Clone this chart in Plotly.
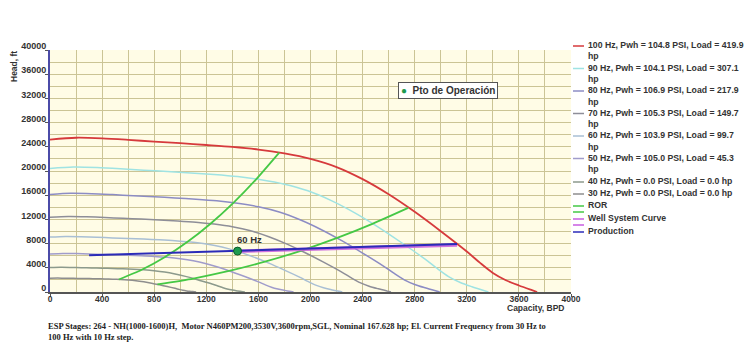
import plotly.graph_objects as go

# ---- pump curves (capacity BPD, head ft) per drive frequency ----
q_100 = [0, 200, 400, 600, 800, 1000, 1200, 1400, 1600, 1800, 2000, 2200, 2400, 2600, 2800, 3000,
         3200, 3300, 3400, 3500, 3600, 3700, 3740]
h_100 = [25200, 25500, 25400, 25150, 24850, 24600, 24300, 23980, 23550, 22900, 22000, 20650, 18650, 16150, 13250, 10050,
         6700, 4850, 3150, 1950, 1080, 300, 0]

q_90 = [0, 180, 360, 540, 720, 900, 1080, 1260, 1440, 1620, 1800, 1980, 2160, 2340, 2520, 2700,
        2880, 2970, 3060, 3150, 3240, 3330, 3366]
h_90 = [20412, 20655, 20574, 20372, 20129, 19926, 19683, 19424, 19076, 18549, 17820, 16727, 15107, 13082, 10733, 8141,
        5427, 3929, 2552, 1580, 875, 243, 0]

q_80 = [0, 160, 320, 480, 640, 800, 960, 1120, 1280, 1440, 1600, 1760, 1920, 2080, 2240, 2400,
        2560, 2640, 2720, 2800, 2880, 2960, 2992]
h_80 = [16128, 16320, 16256, 16096, 15904, 15744, 15552, 15347, 15072, 14656, 14080, 13216, 11936, 10336, 8480, 6432,
        4288, 3104, 2016, 1248, 691, 192, 0]

q_70 = [0, 140, 280, 420, 560, 700, 840, 980, 1120, 1260, 1400, 1540, 1680, 1820, 1960, 2100,
        2240, 2310, 2380, 2450, 2520, 2590, 2618]
h_70 = [12348, 12495, 12446, 12324, 12177, 12054, 11907, 11750, 11540, 11221, 10780, 10119, 9139, 7914, 6493, 4925,
        3283, 2377, 1544, 956, 529, 147, 0]

q_60 = [0, 120, 240, 360, 480, 600, 720, 840, 960, 1080, 1200, 1320, 1440, 1560, 1680, 1800,
        1920, 1980, 2040, 2100, 2160, 2220, 2244]
h_60 = [9072, 9180, 9144, 9054, 8946, 8856, 8748, 8633, 8478, 8244, 7920, 7434, 6714, 5814, 4770, 3618,
        2412, 1746, 1134, 702, 389, 108, 0]

q_50 = [0, 100, 200, 300, 400, 500, 600, 700, 800, 900, 1000, 1100, 1200, 1300, 1400, 1500,
        1600, 1650, 1700, 1750, 1800, 1850, 1870]
h_50 = [6300, 6375, 6350, 6288, 6212, 6150, 6075, 5995, 5888, 5725, 5500, 5162, 4662, 4038, 3312, 2512,
        1675, 1212, 788, 488, 270, 75, 0]

q_40 = [0, 80, 160, 240, 320, 400, 480, 560, 640, 720, 800, 880, 960, 1040, 1120, 1200,
        1280, 1320, 1360, 1400, 1440, 1480, 1496]
h_40 = [4032, 4080, 4064, 4024, 3976, 3936, 3888, 3837, 3768, 3664, 3520, 3304, 2984, 2584, 2120, 1608,
        1072, 776, 504, 312, 173, 48, 0]

q_30 = [0, 60, 120, 180, 240, 300, 360, 420, 480, 540, 600, 660, 720, 780, 840, 900,
        960, 990, 1020, 1050, 1080, 1110, 1122]
h_30 = [2268, 2295, 2286, 2264, 2236, 2214, 2187, 2158, 2120, 2061, 1980, 1858, 1678, 1454, 1192, 904,
        603, 436, 284, 176, 97, 27, 0]

# recommended operating range limits
q_ror_min = [528, 704, 880, 1056, 1232, 1408, 1584, 1760]
h_ror_min = [2073, 3685, 5758, 8291, 11285, 14739, 18654, 23030]
q_ror_max = [825, 1100, 1375, 1650, 1925, 2200, 2475, 2750]
h_ror_max = [1251, 2224, 3475, 5004, 6811, 8896, 11259, 13900]

# well system curve and production line
q_well = [1440, 2000, 2600, 3125]
h_well = [6740, 7060, 7400, 7760]
q_prod = [300, 800, 1440, 2000, 2687, 3125]
h_prod = [6080, 6390, 6760, 7150, 7620, 7930]

# operating point
op_q = [1440]
op_h = [6760]
op_label = "60 Hz"

legend_names = [
    "100 Hz, Pwh = 104.8 PSI, Load = 419.9 hp",
    "90 Hz, Pwh = 104.1 PSI, Load = 307.1 hp",
    "80 Hz, Pwh = 106.9 PSI, Load = 217.9 hp",
    "70 Hz, Pwh = 105.3 PSI, Load = 149.7 hp",
    "60 Hz, Pwh = 103.9 PSI, Load = 99.7 hp",
    "50 Hz, Pwh = 105.0 PSI, Load = 45.3 hp",
    "40 Hz, Pwh = 0.0 PSI, Load = 0.0 hp",
    "30 Hz, Pwh = 0.0 PSI, Load = 0.0 hp",
    "ROR",
    "Well System Curve",
    "Production",
]

x_ticks = [0, 400, 800, 1200, 1600, 2000, 2400, 2800, 3200, 3600, 4000]
y_ticks = [0, 4000, 8000, 12000, 16000, 20000, 24000, 28000, 32000, 36000, 40000]

note = ("ESP Stages: 264 - NH(1000-1600)H,  Motor N460PM200,3530V,3600rpm,SGL, Nominal 167.628 hp; "
        "El. Current Frequency from 30 Hz to<br>100 Hz with 10 Hz step.")

# ---- styling ----
FONT = "Liberation Sans, Arial, sans-serif"
TXT = "#333333"
hz_colors = ["#D63A3C", "#9FE3E3", "#8C8CC4", "#8E8E98", "#A9BFD4", "#A09CCB", "#8C9A8C", "#8E8E8E"]
ror_color = "#45C845"
well_color = "#C85CE0"
prod_color = "#2B2BB8"
grid_color = "#CBC495"

fig = go.Figure()

hz_series = [(q_100, h_100), (q_90, h_90), (q_80, h_80), (q_70, h_70),
             (q_60, h_60), (q_50, h_50), (q_40, h_40), (q_30, h_30)]
for i, (q, h) in enumerate(hz_series):
    fig.add_trace(go.Scatter(x=q, y=h, mode="lines", name=legend_names[i],
                             line=dict(color=hz_colors[i], width=1.8 if i == 0 else 1.5,
                                       shape="spline", smoothing=0.8),
                             hoverinfo="skip"))

for q, h in [(q_ror_min, h_ror_min), (q_ror_max, h_ror_max)]:
    fig.add_trace(go.Scatter(x=q, y=h, mode="lines", name="ROR",
                             line=dict(color=ror_color, width=1.8, shape="spline", smoothing=0.6)))

fig.add_trace(go.Scatter(x=q_well, y=h_well, mode="lines", name="Well System Curve",
                         line=dict(color=well_color, width=3.5), opacity=0.85))
fig.add_trace(go.Scatter(x=q_prod, y=h_prod, mode="lines", name="Production",
                         line=dict(color=prod_color, width=2)))

fig.add_trace(go.Scatter(x=op_q, y=op_h, mode="markers", name="Pto de Operación",
                         marker=dict(size=8, color="#1E9A4E", line=dict(color="#0D5A2A", width=1))))
fig.add_annotation(x=op_q[0], y=op_h[0], text=op_label, showarrow=False,
                   xanchor="left", yanchor="bottom", xshift=-3, yshift=4,
                   font=dict(family=FONT, size=9.5, color=TXT, weight="bold"))


def px_x(px):
    return (px - 50) / 521


def px_y(py):
    return (292 - py) / 242


# ---- legend drawn at the right of the plot ----
legend_font = dict(family=FONT, size=8.7, color=TXT, weight="bold")
legend_colors = hz_colors + [ror_color, well_color, prod_color]
row_y = [45, 67.5, 90, 112.5, 135, 157.5, 181, 193, 205, 218, 231]
for name, color, py in zip(legend_names, legend_colors, row_y):
    lines = name.rsplit(" ", 1) if len(name) > 36 else [name]
    for k, line in enumerate(lines):
        fig.add_annotation(xref="paper", yref="paper", x=px_x(586), y=px_y(py + 11.5 * k),
                           text=line, showarrow=False, xanchor="left", yanchor="middle",
                           font=legend_font)
    fig.add_shape(type="line", xref="paper", yref="paper",
                  x0=px_x(573), x1=px_x(584), y0=px_y(py + 1), y1=px_y(py + 1),
                  line=dict(color=color, width=1.5))
# second ROR and well-curve samples
for color, py in [(ror_color, 212), (well_color, 225)]:
    fig.add_shape(type="line", xref="paper", yref="paper",
                  x0=px_x(573), x1=px_x(584), y0=px_y(py), y1=px_y(py),
                  line=dict(color=color, width=1.5))

# operating point key box
fig.add_annotation(xref="paper", yref="paper", x=px_x(448), y=px_y(90.5),
                   text="<span style='color:#1E9A4E'>●</span>  Pto de Operación",
                   showarrow=False, xanchor="center", yanchor="middle",
                   bgcolor="white", bordercolor="#555555", borderwidth=1, borderpad=2,
                   font=dict(family=FONT, size=10, color=TXT, weight="bold"))

# axis titles
fig.add_annotation(xref="paper", yref="paper", x=px_x(14), y=px_y(67),
                   text="Head, ft", textangle=-90, showarrow=False,
                   xanchor="center", yanchor="middle",
                   font=dict(family=FONT, size=8.5, color=TXT, weight="bold"))
fig.add_annotation(xref="paper", yref="paper", x=px_x(566), y=px_y(308),
                   text="Capacity, BPD", showarrow=False,
                   xanchor="right", yanchor="middle",
                   font=dict(family=FONT, size=8.5, color=TXT, weight="bold"))

# footnote
fig.add_annotation(xref="paper", yref="paper", x=px_x(46), y=px_y(319),
                   text=note, showarrow=False, xanchor="left", yanchor="top", align="left",
                   font=dict(family="Liberation Serif, Times New Roman, serif", size=8.5,
                             color="#222222", weight="bold"))

fig.update_layout(
    width=744, height=345,
    margin=dict(l=50, r=173, t=50, b=53),
    paper_bgcolor="white", plot_bgcolor="#FFFCE6",
    showlegend=False,
    font=dict(family=FONT, size=9, color=TXT),
    xaxis=dict(range=[0, 4000], tickvals=x_ticks, tickformat="d",
               showgrid=True, gridcolor=grid_color, gridwidth=1.3,
               minor=dict(dtick=200, tick0=0, showgrid=True, gridcolor=grid_color, gridwidth=1.3),
               showline=True, linecolor="#555555", linewidth=1.5,
               ticks="outside", ticklen=3, tickcolor="#555555",
               ticklabelstandoff=-5,
               tickfont=dict(family=FONT, size=8.5, color=TXT, weight="bold"),
               zeroline=False),
    yaxis=dict(range=[0, 40000], tickvals=y_ticks, tickformat="d",
               showgrid=True, gridcolor=grid_color, gridwidth=1.3,
               minor=dict(dtick=2000, tick0=0, showgrid=True, gridcolor=grid_color, gridwidth=1.3),
               showline=True, linecolor="#4B4BA8", linewidth=2,
               ticks="outside", ticklen=3, tickcolor="#555555",
               ticklabelshift=-4, ticklabelstandoff=-3,
               tickfont=dict(family=FONT, size=9, color=TXT, weight="bold"),
               zeroline=False),
)

fig.write_html("out.html")
